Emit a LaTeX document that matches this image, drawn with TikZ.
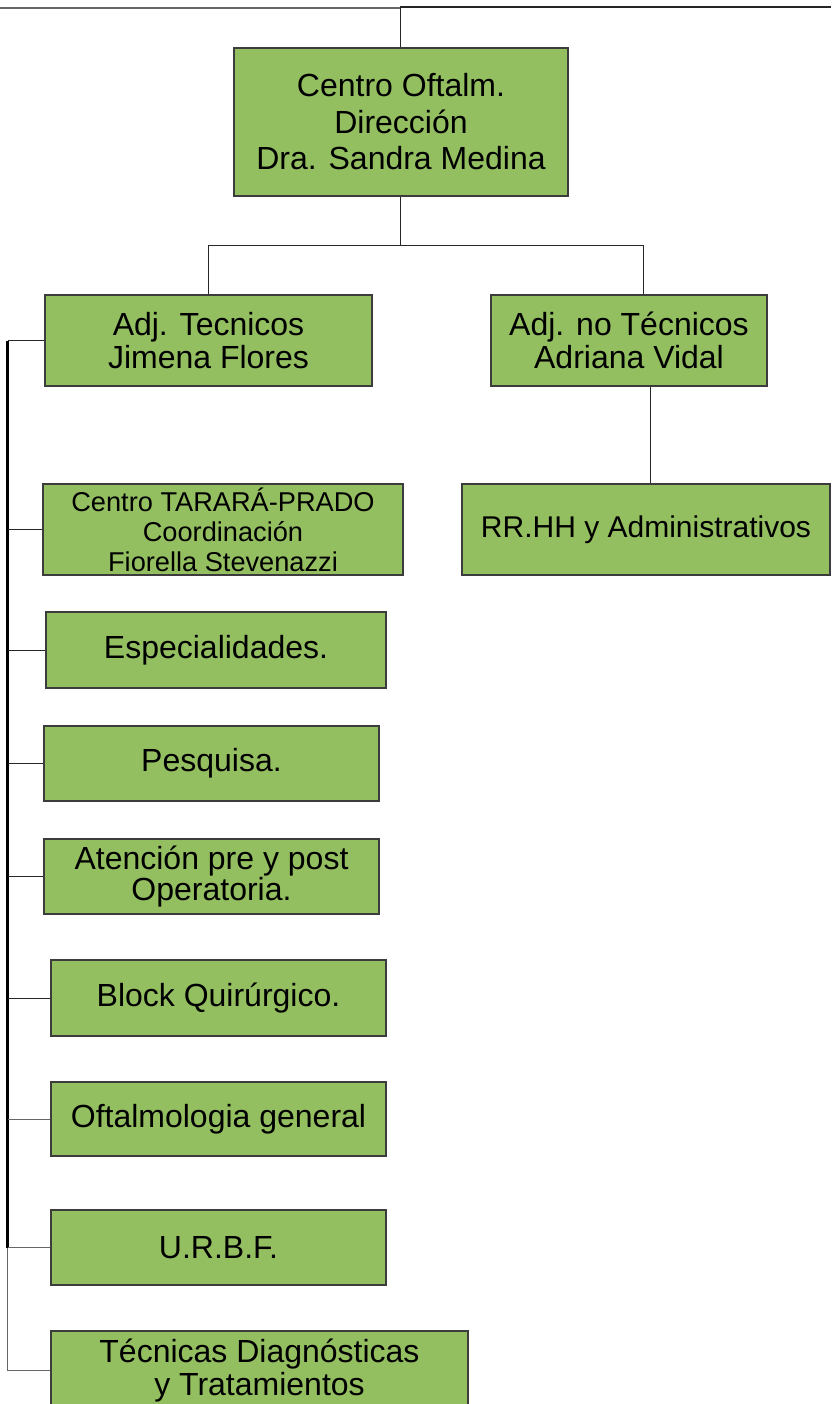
\documentclass[tikz,border=0pt]{standalone}
\usepackage{fontspec}
\setmainfont{Liberation Sans}
\definecolor{boxgreen}{RGB}{147,191,96}
\definecolor{edgegray}{RGB}{60,60,60}
\begin{document}
\begin{tikzpicture}[x=0.5pt,y=-0.5pt,
  box/.style={draw=edgegray, line width=0.6pt, fill=boxgreen, align=center, inner sep=0pt,
    font=\fontsize{16}{16.5}\selectfont},
  conn/.style={draw=black!85, line width=0.5pt},
  lconn/.style={draw=black!60, line width=0.5pt}]
\clip (0,0) rectangle (831,1404);
\useasboundingbox (0,0) rectangle (831,1404);

% nodes
\node[box, minimum width=167pt, minimum height=74pt, font=\fontsize{16}{18.25}\selectfont] (top) at (401,122) {Centro Oftalm.\\Dirección\\Dra. Sandra Medina};
\node[box, minimum width=163.5pt, minimum height=45.5pt] (adjT) at (208.5,340.5) {Adj. Tecnicos\\Jimena Flores};
\node[box, minimum width=138pt, minimum height=45.5pt] (adjN) at (629,340.5) {Adj. no Técnicos\\Adriana Vidal};
\node[box, minimum width=184pt, minimum height=45.5pt, font=\fontsize{15}{15}\selectfont] (rrhh) at (646,529.5) {RR.HH y Administrativos};
\node[box, minimum width=180pt, minimum height=45.5pt, font=\fontsize{13.6}{15}\selectfont] (tarara) at (223,529.5) {Centro TARARÁ-PRADO\\Coordinación\\Fiorella Stevenazzi};
\node[box, minimum width=170pt, minimum height=38pt] (esp) at (216,650) {Especialidades.};
\node[box, minimum width=167.5pt, minimum height=37.5pt] (pes) at (211.5,763.5) {Pesquisa.};
\node[box, minimum width=167.5pt, minimum height=37.5pt, font=\fontsize{16}{15.5}\selectfont] (ate) at (211.5,876.5) {Atención pre y post\\Operatoria.};
\node[box, minimum width=167.5pt, minimum height=38pt] (block) at (218.5,998) {Block Quirúrgico.};
\node[box, minimum width=167.5pt, minimum height=37pt] (oft) at (218.5,1119) {Oftalmologia general};
\node[box, minimum width=167.5pt, minimum height=37.5pt] (urbf) at (218.5,1247.5) {U.R.B.F.};
\node[box, minimum width=208.5pt, minimum height=39.5pt] (tec) at (259.5,1370.5) {Técnicas Diagnósticas\\y Tratamientos};

% coordinates for free ends
\coordinate (tl) at (0,8);
\coordinate (tm) at (400,8);
\coordinate (tm2) at (400,7);
\coordinate (tr) at (831,7);
\coordinate (j) at (400,245);
\coordinate (sp) at (7.5,0);

% top line
\draw[lconn, line width=0.8pt] (tl) -- (tm);
\draw[conn, line width=0.9pt] (tm2) -- (tr);
\draw[conn] (tm2) -- (tm2 |- top.north);

% top to deputies
\draw[conn] (top.south -| j) -- (j);
\draw[conn] (adjT.north) |- (j);
\draw[conn] ([xshift=7pt]adjN.north) |- (j);
\draw[conn] ([xshift=10.5pt]adjN.south) -- ([xshift=10.5pt]adjN.south |- rrhh.north);

% left spine
\draw[draw=black, line width=1.1pt] (adjT.west -| sp) -- (urbf.west -| sp);
\draw[lconn] (urbf.west -| sp) -- (tec.west -| sp);
\foreach \n in {adjT,tarara,esp,pes,ate,block}{
  \draw[conn] (\n.west -| sp) -- (\n.west);
}
\foreach \n in {oft,urbf,tec}{
  \draw[lconn] (\n.west -| sp) -- (\n.west);
}
\end{tikzpicture}
\end{document}
